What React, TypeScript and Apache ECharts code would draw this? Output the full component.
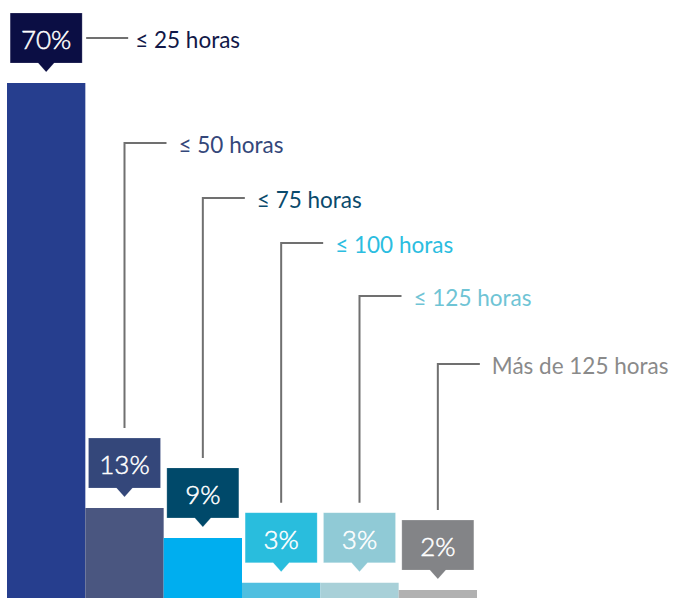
import React, { useEffect, useRef } from "react";
import * as echarts from "echarts";

const categories = ["≤ 25 horas", "≤ 50 horas", "≤ 75 horas", "≤ 100 horas", "≤ 125 horas", "Más de 125 horas"];
const values = [70, 13, 9, 3, 3, 2];
const valueLabels = ["70%", "13%", "9%", "3%", "3%", "2%"];

const barColors = ["#263e8e", "#4a5680", "#00aeef", "#4fbfe0", "#a8d0d8", "#b1b1b1"];
const boxColors = ["#0b0e44", "#34477a", "#00496a", "#29bddd", "#90cad6", "#838487"];
const labelColors = ["#111848", "#34477a", "#0a4a6c", "#2bbde0", "#6fc4d5", "#8a8a8a"];
// layout: y position (px) of each category label row
const labelRows = [38, 143, 198, 243, 296, 364];

const FONT = "Lato, 'Open Sans', sans-serif";

export default function App() {
  const ref = useRef<HTMLDivElement>(null);
  useEffect(() => {
    if (!ref.current) return;
    const chart = echarts.init(ref.current, undefined, { renderer: "svg" });
    const renderItem = (params: any, api: any) => {
      const i = params.dataIndex;
      const pt = api.coord([api.value(0), api.value(1)]);
      const cx = pt[0];
      const top = pt[1];
      const boxBottom = top - 20;
      const boxTop = boxBottom - 50;
      const l = cx - 36;
      const r = cx + 36;
      const children: any[] = [];
      children.push({
        type: "polygon",
        shape: {
          points: [
            [l, boxTop],
            [r, boxTop],
            [r, boxBottom],
            [cx + 8, boxBottom],
            [cx, boxBottom + 9],
            [cx - 8, boxBottom],
            [l, boxBottom],
          ],
        },
        style: { fill: boxColors[i], stroke: "rgba(255,255,255,0.18)", lineWidth: 1 },
      });
      children.push({
        type: "text",
        style: {
          text: valueLabels[i],
          x: cx,
          y: (boxTop + boxBottom) / 2 + 1,
          fill: "#ffffff",
          stroke: "#ffffff",
          lineWidth: 0.5,
          fontSize: 26,
          fontWeight: 300,
          fontFamily: FONT,
          align: "center",
          verticalAlign: "middle",
          textAlign: "center",
          textVerticalAlign: "middle",
        },
      });
      const ly = labelRows[i];
      let textX;
      if (i === 0) {
        children.push({
          type: "line",
          shape: { x1: r + 4, y1: ly, x2: r + 46, y2: ly },
          style: { stroke: "#707070", lineWidth: 2 },
        });
        textX = r + 53;
      } else {
        children.push({
          type: "polyline",
          shape: { points: [[cx, boxTop - 10], [cx, ly], [cx + 42, ly]] },
          style: { stroke: "#707070", lineWidth: 2, fill: null },
        });
        textX = cx + 54;
      }
      children.push({
        type: "text",
        style: {
          text: categories[i],
          x: textX,
          y: ly + 1,
          fill: labelColors[i],
          fontSize: 22.5,
          fontFamily: FONT,
          align: "left",
          verticalAlign: "middle",
          textAlign: "left",
          textVerticalAlign: "middle",
        },
      });
      return { type: "group", children };
    };
    chart.setOption({
      animation: false,
      grid: { left: 7, right: 202, top: 83, bottom: 0 },
      xAxis: { type: "category", data: categories, show: false },
      yAxis: { type: "value", min: 0, max: 70, show: false },
      series: [
        {
          type: "bar",
          barCategoryGap: 0,
          data: values.map((v, i) => ({ value: v, itemStyle: { color: barColors[i] } })),
        },
        {
          type: "custom",
          clip: false,
          z: 5,
          renderItem,
          data: values.map((v, i) => [i, v]),
        },
      ],
    });
    return () => chart.dispose();
  }, []);
  return (
    <div
      style={{ position: "fixed", left: 0, top: 0, width: 679, height: 598, overflow: "hidden", background: "#fff" }}
    >
      <div ref={ref} style={{ width: 679, height: 605 }} />
    </div>
  );
}
